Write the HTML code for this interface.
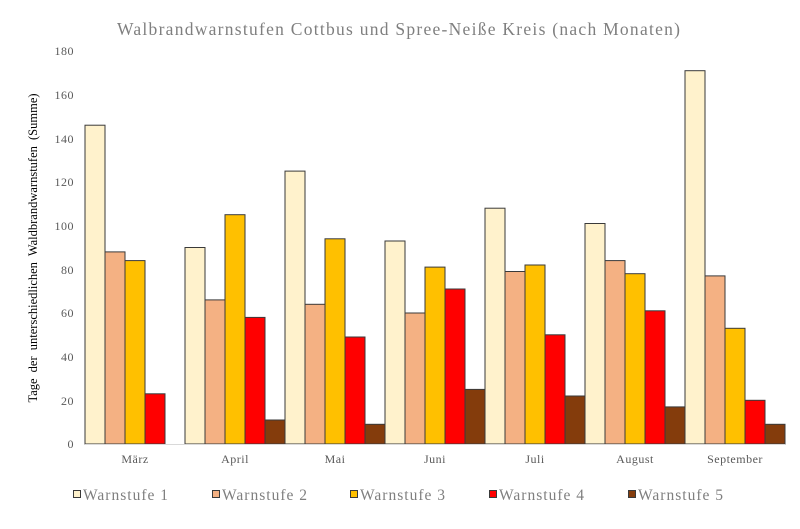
<!DOCTYPE html>
<html><head><meta charset="utf-8"><style>
html,body{margin:0;padding:0;background:#fff;}
svg{display:block;font-family:"Liberation Serif",serif;}
</style></head><body>
<svg width="800" height="529" viewBox="0 0 800 529" xmlns="http://www.w3.org/2000/svg">
<rect width="800" height="529" fill="#fff"/>
<text x="117" y="35" font-size="17.5" fill="#7f7f7f" textLength="563" lengthAdjust="spacing">Walbrandwarnstufen Cottbus und Spree-Neiße Kreis (nach Monaten)</text>
<g font-size="12" fill="#595959" text-anchor="end" letter-spacing="0.5">
<text x="74" y="448">0</text>
<text x="74" y="405">20</text>
<text x="74" y="361">40</text>
<text x="74" y="317">60</text>
<text x="74" y="274">80</text>
<text x="74" y="230">100</text>
<text x="74" y="186">120</text>
<text x="74" y="143">140</text>
<text x="74" y="99">160</text>
<text x="74" y="55">180</text>
</g>
<text transform="translate(37,248) rotate(-90)" text-anchor="middle" font-size="12.5" fill="#000" word-spacing="3">Tage der unterschiedlichen Waldbrandwarnstufen (Summe)</text>
<g stroke="#3a3a3a" stroke-width="1">
<rect x="85" y="125.2" width="20" height="318.8" fill="#FFF2CC"/>
<rect x="105" y="251.9" width="20" height="192.1" fill="#F4B183"/>
<rect x="125" y="260.6" width="20" height="183.4" fill="#FFC000"/>
<rect x="145" y="393.8" width="20" height="50.2" fill="#FF0000"/>
<rect x="185" y="247.5" width="20" height="196.5" fill="#FFF2CC"/>
<rect x="205" y="299.9" width="20" height="144.1" fill="#F4B183"/>
<rect x="225" y="214.7" width="20" height="229.3" fill="#FFC000"/>
<rect x="245" y="317.4" width="20" height="126.6" fill="#FF0000"/>
<rect x="265" y="420" width="20" height="24" fill="#843C0C"/>
<rect x="285" y="171.1" width="20" height="272.9" fill="#FFF2CC"/>
<rect x="305" y="304.3" width="20" height="139.7" fill="#F4B183"/>
<rect x="325" y="238.8" width="20" height="205.2" fill="#FFC000"/>
<rect x="345" y="337" width="20" height="107" fill="#FF0000"/>
<rect x="365" y="424.3" width="20" height="19.7" fill="#843C0C"/>
<rect x="385" y="241" width="20" height="203" fill="#FFF2CC"/>
<rect x="405" y="313" width="20" height="131" fill="#F4B183"/>
<rect x="425" y="267.1" width="20" height="176.9" fill="#FFC000"/>
<rect x="445" y="289" width="20" height="155" fill="#FF0000"/>
<rect x="465" y="389.4" width="20" height="54.6" fill="#843C0C"/>
<rect x="485" y="208.2" width="20" height="235.8" fill="#FFF2CC"/>
<rect x="505" y="271.5" width="20" height="172.5" fill="#F4B183"/>
<rect x="525" y="265" width="20" height="179" fill="#FFC000"/>
<rect x="545" y="334.8" width="20" height="109.2" fill="#FF0000"/>
<rect x="565" y="396" width="20" height="48" fill="#843C0C"/>
<rect x="585" y="223.5" width="20" height="220.5" fill="#FFF2CC"/>
<rect x="605" y="260.6" width="20" height="183.4" fill="#F4B183"/>
<rect x="625" y="273.7" width="20" height="170.3" fill="#FFC000"/>
<rect x="645" y="310.8" width="20" height="133.2" fill="#FF0000"/>
<rect x="665" y="406.9" width="20" height="37.1" fill="#843C0C"/>
<rect x="685" y="70.7" width="20" height="373.3" fill="#FFF2CC"/>
<rect x="705" y="275.9" width="20" height="168.1" fill="#F4B183"/>
<rect x="725" y="328.3" width="20" height="115.7" fill="#FFC000"/>
<rect x="745" y="400.3" width="20" height="43.7" fill="#FF0000"/>
<rect x="765" y="424.3" width="20" height="19.7" fill="#843C0C"/>
</g>
<line x1="85" y1="444.5" x2="785" y2="444.5" stroke="#d9d9d9" stroke-width="1"/>
<g font-size="12" fill="#595959" text-anchor="middle" letter-spacing="0.5">
<text x="135" y="463">März</text>
<text x="235" y="463">April</text>
<text x="335" y="463">Mai</text>
<text x="435" y="463">Juni</text>
<text x="535" y="463">Juli</text>
<text x="635" y="463">August</text>
<text x="735" y="463">September</text>
</g>
<g font-size="15.5" fill="#7f7f7f">
<rect x="73.5" y="490.5" width="7" height="7" fill="#FFF2CC" stroke="#3a3a3a"/>
<text x="83" y="500" textLength="85" lengthAdjust="spacing">Warnstufe 1</text>
<rect x="212.5" y="490.5" width="7" height="7" fill="#F4B183" stroke="#3a3a3a"/>
<text x="222" y="500" textLength="85" lengthAdjust="spacing">Warnstufe 2</text>
<rect x="350.5" y="490.5" width="7" height="7" fill="#FFC000" stroke="#3a3a3a"/>
<text x="360" y="500" textLength="85" lengthAdjust="spacing">Warnstufe 3</text>
<rect x="489.5" y="490.5" width="7" height="7" fill="#FF0000" stroke="#3a3a3a"/>
<text x="499" y="500" textLength="85" lengthAdjust="spacing">Warnstufe 4</text>
<rect x="628.5" y="490.5" width="7" height="7" fill="#843C0C" stroke="#3a3a3a"/>
<text x="638" y="500" textLength="85" lengthAdjust="spacing">Warnstufe 5</text>
</g>
</svg>
</body></html>
